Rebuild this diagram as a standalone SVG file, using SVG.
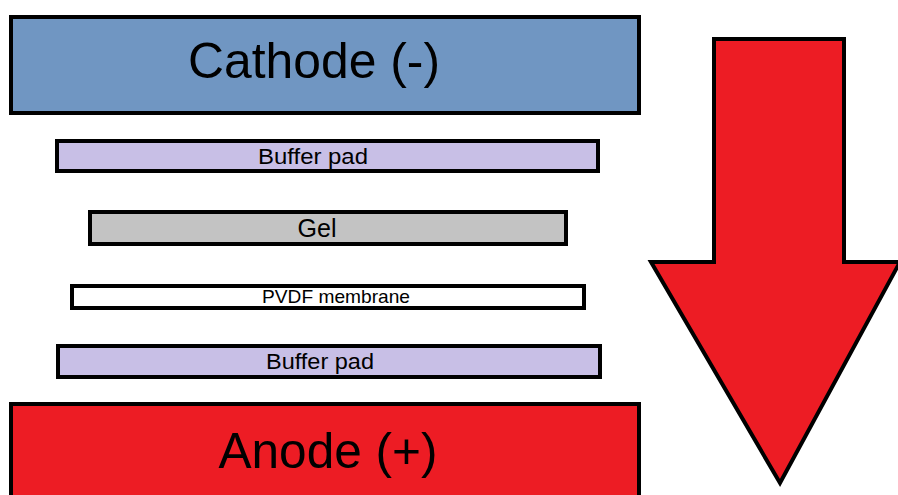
<svg xmlns="http://www.w3.org/2000/svg" width="898" height="495" viewBox="0 0 898 495">
<style>
.box{stroke:#000;stroke-width:4}
.t{font-family:"Liberation Sans",Arial,sans-serif;fill:#000;text-anchor:middle}
</style>
<rect width="898" height="495" fill="#fff"/>
<g id="cathode"><rect class="box" x="11" y="17" width="628" height="96" fill="#7096c2"/><text class="t" x="314" y="78" font-size="50" textLength="252" lengthAdjust="spacingAndGlyphs">Cathode (-)</text></g>
<g id="buffer1"><rect class="box" x="57" y="141" width="541" height="30" fill="#c8bfe6"/><text class="t" x="313" y="164" font-size="22" textLength="110" lengthAdjust="spacingAndGlyphs">Buffer pad</text></g>
<g id="gel"><rect class="box" x="90" y="212" width="476" height="32" fill="#c3c3c3"/><text class="t" x="317" y="237" font-size="25" textLength="39" lengthAdjust="spacingAndGlyphs">Gel</text></g>
<g id="pvdf"><rect class="box" x="72" y="286" width="512" height="22" fill="#fff"/><text class="t" x="336" y="303" font-size="18.5" textLength="148" lengthAdjust="spacingAndGlyphs">PVDF membrane</text></g>
<g id="buffer2"><rect class="box" x="58" y="346" width="542" height="31" fill="#c8bfe6"/><text class="t" x="320" y="369" font-size="22" textLength="108" lengthAdjust="spacingAndGlyphs">Buffer pad</text></g>
<g id="anode"><rect class="box" x="11" y="404" width="628" height="95" fill="#ed1c24"/><text class="t" x="328" y="468" font-size="50" textLength="219" lengthAdjust="spacingAndGlyphs">Anode (+)</text></g>
<g id="connectors"><polygon class="box" points="714,39 844,39 844,262 900,262 780,483 651,262 714,262" fill="#ed1c24" stroke-linejoin="miter"/></g>
</svg>
